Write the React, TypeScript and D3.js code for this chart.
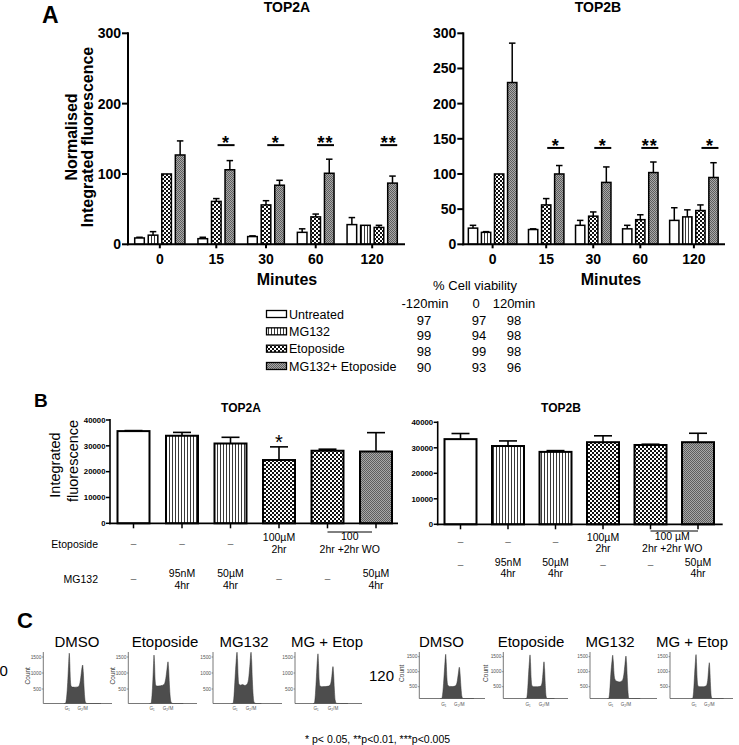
import React from "react";
import * as d3 from "d3";

const FONT = "'Liberation Sans', Arial, Helvetica, sans-serif";

// ---------------- Panel A data ----------------
const MINUTES = ["0", "15", "30", "60", "120"];
const SERIES = ["Untreated", "MG132", "Etoposide", "MG132+ Etoposide"];
const FILLS = ["#ffffff", "url(#pStripe)", "url(#pCheck)", "url(#pGray)"];

const TOP2A_UNTREATED = [9, 8, 11, 17, 28];
const TOP2A_MG132 = [13, null, null, null, 27];
const TOP2A_ETOPOSIDE = [100, 61, 56, 39, 24];
const TOP2A_COMBO = [127, 106, 84, 101, 87];
const TOP2A_UNTREATED_SEM = [1, 2, 1, 5, 10];
const TOP2A_MG132_SEM = [5, null, null, null, 0];
const TOP2A_ETOPOSIDE_SEM = [0, 4, 6, 4, 3];
const TOP2A_COMBO_SEM = [20, 13, 7, 20, 10];
const TOP2A_SIG = ["", "*", "*", "**", "**"];
const TOP2A_TICKS = [0, 100, 200, 300];

const TOP2B_UNTREATED = [23, 21, 27, 22, 34];
const TOP2B_MG132 = [17, null, null, null, 39];
const TOP2B_ETOPOSIDE = [100, 56, 40, 35, 48];
const TOP2B_COMBO = [230, 100, 88, 102, 95];
const TOP2B_UNTREATED_SEM = [4, 1, 7, 5, 18];
const TOP2B_MG132_SEM = [1, null, null, null, 10];
const TOP2B_ETOPOSIDE_SEM = [0, 9, 6, 7, 8];
const TOP2B_COMBO_SEM = [56, 12, 22, 15, 21];
const TOP2B_SIG = ["", "*", "*", "**", "*"];
const TOP2B_TICKS = [0, 50, 100, 150, 200, 250, 300];

// viability table
const VIAB_HEADERS = ["-120min", "0", "120min"];
const VIAB_M120 = [97, 99, 98, 90];
const VIAB_0 = [97, 94, 99, 93];
const VIAB_120 = [98, 98, 98, 96];

// ---------------- Panel B data ----------------
const B_FILL_INDEX = [0, 1, 1, 2, 2, 3];
const B_TOP2A = [35700, 33900, 30900, 24500, 28100, 27800];
const B_TOP2A_SEM = [200, 1300, 2400, 5100, 600, 7300];
const B_TOP2B = [33400, 30700, 28400, 32200, 31100, 32200];
const B_TOP2B_SEM = [2200, 2000, 500, 2500, 300, 3500];
const B_TICKS = [0, 10000, 20000, 30000, 40000];
const ETOP_ROW = [["–"], ["–"], ["–"], ["100µM", "2hr"], null, null];
const MG132_ROW = [["–"], ["95nM", "4hr"], ["50µM", "4hr"], ["–"], ["–"], ["50µM", "4hr"]];

// ---------------- Panel C data ----------------
const C_TITLES = ["DMSO", "Etoposide", "MG132", "MG + Etop"];
const C_ROWS = ["0", "120"];
const C_TICKS = [500, 1000, 1500];
const HIST_DMSO_0 = [[300,0],[320,40],[340,250],[355,700],[368,1250],[378,1620],[386,1300],[394,800],[404,600],[420,560],[460,555],[500,565],[525,620],[545,850],[560,1120],[573,1250],[583,1000],[592,600],[602,250],[615,80],[640,30],[720,15],[820,5],[840,0]];
const HIST_ETOP_0 = [[310,0],[330,50],[345,300],[358,800],[367,1250],[374,1560],[382,1300],[390,800],[400,620],[420,590],[470,600],[520,640],[545,820],[562,1100],[578,1350],[588,1100],[598,650],[610,250],[625,80],[650,30],[720,15],[800,0]];
const HIST_MG_0 = [[270,0],[290,50],[305,300],[320,850],[335,1350],[348,1650],[356,1400],[364,900],[374,660],[400,620],[430,640],[460,610],[490,640],[515,800],[533,1200],[551,1650],[560,1400],[570,800],[582,300],[597,80],[625,20],[700,0]];
const HIST_MGETOP_0 = [[270,0],[290,60],[305,350],[320,900],[332,1350],[343,1600],[351,1300],[360,800],[372,600],[400,570],[450,575],[500,590],[530,650],[550,900],[567,1200],[577,950],[587,500],[600,150],[620,50],[680,35],[760,20],[790,0]];
const HIST_DMSO_120 = [[320,0],[340,60],[360,350],[378,900],[392,1350],[402,1580],[410,1300],[420,800],[432,560],[460,510],[510,505],[550,530],[575,650],[595,950],[609,1150],[620,950],[632,550],[648,180],[665,60],[700,40],[780,25],[830,0]];
const HIST_ETOP_120 = [[340,0],[358,60],[375,350],[390,900],[404,1350],[413,1560],[421,1300],[430,800],[442,540],[470,500],[530,500],[580,520],[600,650],[615,1000],[629,1330],[638,1100],[648,600],[660,200],[675,60],[720,25],[790,0]];
const HIST_MG_120 = [[260,0],[278,60],[295,350],[310,900],[328,1350],[339,1550],[348,1350],[358,950],[370,760],[400,680],[440,660],[480,700],[505,900],[522,1250],[537,1520],[546,1300],[556,800],[568,300],[580,80],[620,40],[700,25],[750,0]];
const HIST_MGETOP_120 = [[340,0],[358,60],[375,350],[390,900],[404,1350],[413,1570],[421,1300],[430,800],[442,540],[470,500],[530,500],[575,530],[598,700],[612,1050],[624,1300],[633,1050],[643,550],[655,180],[670,60],[720,40],[800,25],[850,0]];
const G1_CH = [[378, 374, 348, 343], [402, 413, 339, 413]];
const G2_CH = [[573, 578, 551, 567], [609, 629, 537, 624]];

function Patterns() {
  return (
    <defs>
      <pattern id="pStripe" patternUnits="userSpaceOnUse" width={3} height={4}>
        <rect width={3} height={4} fill="#fff" />
        <rect x={1} width={0.9} height={4} fill="#222" />
      </pattern>
      <pattern id="pCheck" patternUnits="userSpaceOnUse" width={4} height={4}>
        <rect width={4} height={4} fill="#fff" />
        <rect width={2} height={2} fill="#111" />
        <rect x={2} y={2} width={2} height={2} fill="#111" />
      </pattern>
      <pattern id="pGray" patternUnits="userSpaceOnUse" width={2} height={2}>
        <rect width={2} height={2} fill="#a8a8a8" />
        <rect width={1} height={1} fill="#5e5e5e" />
        <rect x={1} y={1} width={1} height={1} fill="#5e5e5e" />
      </pattern>
    </defs>
  );
}

type PanelAProps = {
  title: string; titleX: number; means: (number | null)[][]; sems: (number | null)[][];
  sig: string[]; ticks: number[]; axisX: number; axisRight: number; firstC: number; lastC: number;
  bw: number; gap: number; sigValue: number; minutesX: number;
};

function PanelA(p: PanelAProps) {
  const y = d3.scaleLinear().domain([0, 300]).range([244.3, 33.3]);
  const groups: any[] = [];
  let pos = 0;
  MINUTES.forEach((label, g) => {
    const start = pos;
    const members: any[] = [];
    p.means.forEach((arr, s) => {
      const v = arr[g];
      if (v != null) {
        members.push({ g, s, pos, v, e: p.sems[s][g] ?? 0 });
        pos += 1;
      }
    });
    groups.push({ label, g, mid: (start + pos - 1) / 2, members });
    pos += p.gap;
  });
  const last = pos - p.gap - 1;
  const x = d3.scaleLinear().domain([0, last]).range([p.firstC, p.lastC]);
  const y0 = y(0);
  const cap = 6.5;
  return (
    <g>
      <text x={p.titleX} y={12} textAnchor="middle" fontWeight="bold" fontSize={14}>{p.title}</text>
      {groups.map((gr) =>
        gr.members.map((m: any) => (
          <g key={`${gr.g}-${m.s}`}>
            <rect x={x(m.pos) - p.bw / 2} y={y(m.v)} width={p.bw} height={y0 - y(m.v)} fill={FILLS[m.s]} stroke="#000" strokeWidth={1.5} />
            {m.e > 0.6 && (
              <g stroke="#000" strokeWidth={1.5}>
                <line x1={x(m.pos)} x2={x(m.pos)} y1={y(m.v)} y2={y(m.v + m.e)} />
                <line x1={x(m.pos) - cap / 2} x2={x(m.pos) + cap / 2} y1={y(m.v + m.e)} y2={y(m.v + m.e)} />
              </g>
            )}
          </g>
        ))
      )}
      {/* significance */}
      {groups.map((gr) => {
        if (!p.sig[gr.g]) return null;
        const a = gr.members.find((m: any) => m.s === 2);
        const b = gr.members.find((m: any) => m.s === 3);
        const mid = (x(a.pos) + x(b.pos)) / 2 + 3;
        const sy = y(p.sigValue);
        return (
          <g key={`sig${gr.g}`}>
            <line x1={mid - 8.5} x2={mid + 8.5} y1={sy} y2={sy} stroke="#000" strokeWidth={2} />
            <text x={mid} y={sy + 4} textAnchor="middle" fontWeight="bold" fontSize={18} letterSpacing={1}>{p.sig[gr.g]}</text>
          </g>
        );
      })}
      {/* axes */}
      <line x1={p.axisX} x2={p.axisX} y1={y0 + 1} y2={y(300) - 1} stroke="#000" strokeWidth={2} />
      <line x1={p.axisX - 1} x2={p.axisRight} y1={y0} y2={y0} stroke="#000" strokeWidth={2} />
      {p.ticks.map((t) => (
        <g key={t}>
          <line x1={p.axisX - 6} x2={p.axisX} y1={y(t)} y2={y(t)} stroke="#000" strokeWidth={2} />
          <text x={p.axisX - 7} y={y(t) + 5} textAnchor="end" fontWeight="bold" fontSize={14}>{t}</text>
        </g>
      ))}
      {groups.map((gr) => (
        <g key={`xt${gr.g}`}>
          <line x1={x(gr.mid)} x2={x(gr.mid)} y1={y0} y2={y0 + 4} stroke="#000" strokeWidth={2} />
          <text x={x(gr.mid)} y={264} textAnchor="middle" fontWeight="bold" fontSize={14}>{gr.label}</text>
        </g>
      ))}
      <text x={p.minutesX} y={285} textAnchor="middle" fontWeight="bold" fontSize={16}>Minutes</text>
    </g>
  );
}

function Legend() {
  const nameY = d3.scaleLinear().domain([0, 3]).range([314, 366]);
  const numY = d3.scaleLinear().domain([0, 3]).range([320, 367]);
  const cols = [VIAB_M120, VIAB_0, VIAB_120];
  const colX = [424, 479, 514];
  const headX = [425, 476, 514];
  return (
    <g fontSize={12.5}>
      <text x={475} y={290} textAnchor="middle" fontSize={13}>% Cell viability</text>
      {VIAB_HEADERS.map((h, i) => (
        <text key={h} x={headX[i]} y={307.5} textAnchor="middle" fontSize={13}>{h}</text>
      ))}
      {SERIES.map((s, i) => (
        <g key={s}>
          <rect x={266.5} y={nameY(i) - 3.5} width={20} height={7} fill={FILLS[i]} stroke="#000" strokeWidth={1.3} />
          <text x={289} y={nameY(i) + 4.5}>{s}</text>
        </g>
      ))}
      {cols.map((c, ci) =>
        c.map((v, i) => (
          <text key={`${ci}-${i}`} x={colX[ci]} y={numY(i) + 4.5} textAnchor="middle" fontSize={13}>{v}</text>
        ))
      )}
    </g>
  );
}

type PanelBProps = {
  title: string; titleX: number; means: number[]; sems: number[]; c0: number; c1: number;
  axisX: number; axisRight: number; yZero: number; yTop: number; rowLabels: boolean;
  merged: string; etopY: number[]; mgY: number[]; star: boolean; mergedLineY: number;
};

function PanelB(p: PanelBProps) {
  const y = d3.scaleLinear().domain([0, 40000]).range([p.yZero, p.yTop]);
  const x = d3.scalePoint<number>().domain(p.means.map((_, i) => i)).range([p.c0, p.c1]);
  const bw = 32;
  const cap = 18;
  const y0 = y(0);
  const row = (items: (string[] | null)[], ys: number[], key: string) =>
    items.map((it, i) => {
      if (!it) return null;
      const cx = x(i)!;
      if (it.length === 1)
        return <text key={key + i} x={cx} y={ys[0]} textAnchor="middle" fontSize={10} fill="#666">{it[0]}</text>;
      return (
        <g key={key + i}>
          <text x={cx} y={ys[1]} textAnchor="middle" fontSize={10.5}>{it[0]}</text>
          <text x={cx} y={ys[2]} textAnchor="middle" fontSize={10.5}>{it[1]}</text>
        </g>
      );
    });
  const m0 = x(4)!, m1 = x(5)!;
  return (
    <g>
      <text x={p.titleX} y={412} textAnchor="middle" fontWeight="bold" fontSize={12}>{p.title}</text>
      {p.means.map((v, i) => {
        const cx = x(i)!;
        return (
          <g key={i}>
            <rect x={cx - bw / 2} y={y(v)} width={bw} height={y0 - y(v)} fill={FILLS[B_FILL_INDEX[i]]} stroke="#000" strokeWidth={2} />
            <g stroke="#000" strokeWidth={1.6}>
              <line x1={cx} x2={cx} y1={y(v)} y2={y(v + p.sems[i])} />
              <line x1={cx - cap / 2} x2={cx + cap / 2} y1={y(v + p.sems[i])} y2={y(v + p.sems[i])} />
            </g>
          </g>
        );
      })}
      {p.star && <text x={x(3)!} y={448.5} textAnchor="middle" fontSize={20}>*</text>}
      <line x1={p.axisX} x2={p.axisX} y1={y0 + 1} y2={y(40000) - 1} stroke="#000" strokeWidth={1.6} />
      <line x1={p.axisX - 1} x2={p.axisRight} y1={y0} y2={y0} stroke="#000" strokeWidth={1.8} />
      {B_TICKS.map((t) => (
        <g key={t}>
          <line x1={p.axisX - 4} x2={p.axisX} y1={y(t)} y2={y(t)} stroke="#000" strokeWidth={1.5} />
          <text x={p.axisX - 4.5} y={y(t) + 2.8} textAnchor="end" fontWeight="bold" fontSize={7.8}>{t}</text>
        </g>
      ))}
      {p.means.map((_, i) => (
        <line key={`t${i}`} x1={x(i)!} x2={x(i)!} y1={y0} y2={y0 + 5} stroke="#000" strokeWidth={1.5} />
      ))}
      {row(ETOP_ROW, p.etopY, "e")}
      {row(MG132_ROW, p.mgY, "m")}
      <line x1={m0} x2={m1 - (p.rowLabels ? 4 : 0)} y1={p.mergedLineY} y2={p.mergedLineY} stroke="#000" strokeWidth={1} />
      <text x={(m0 + m1) / 2 - 2} y={p.etopY[1] - 1} textAnchor="middle" fontSize={10.5}>{p.merged}</text>
      <text x={(m0 + m1) / 2 - 2} y={p.etopY[2]} textAnchor="middle" fontSize={10.5}>2hr +2hr WO</text>
      {p.rowLabels && (
        <g fontSize={10.5}>
          <text x={98} y={547.5} textAnchor="end">Etoposide</text>
          <text x={98} y={582.5} textAnchor="end">MG132</text>
          <text transform="translate(60,465) rotate(-90)" textAnchor="middle" fontSize={14.5}>Integrated</text>
          <text transform="translate(78,461) rotate(-90)" textAnchor="middle" fontSize={14.5}>fluorescence</text>
        </g>
      )}
    </g>
  );
}

type HistProps = {
  data: number[][]; x0: number; x1: number; yZero: number; y1500: number; axisY: number;
  title: string; titleX: number; count: boolean; countOffset: number; g1: number; g2: number; labY: number;
};

function Hist(p: HistProps) {
  const xs = d3.scaleLinear().domain([0, 1000]).range([p.x0, p.x1]);
  const ys = d3.scaleLinear().domain([0, 1500]).range([p.yZero, p.y1500]);
  const area = d3.area<number[]>()
    .x((d) => xs(d[0]))
    .y0(p.axisY)
    .y1((d) => Math.min(p.axisY, ys(d[1])))
    .curve(d3.curveMonotoneX);
  return (
    <g>
      <text x={p.titleX} y={647} textAnchor="middle" fontSize={15}>{p.title}</text>
      <path d={area(p.data) || ""} fill="#4d4d4d" stroke="#333" strokeWidth={0.5} />
      <line x1={p.x0} x2={p.x0} y1={p.axisY} y2={652} stroke="#555" strokeWidth={0.8} />
      <line x1={p.x0} x2={p.x1} y1={p.axisY} y2={p.axisY} stroke="#555" strokeWidth={0.8} />
      {C_TICKS.map((t) => (
        <g key={t}>
          <line x1={p.x0 - 1.5} x2={p.x0} y1={ys(t)} y2={ys(t)} stroke="#555" strokeWidth={0.6} />
          <text x={p.x0 - 2} y={ys(t) + 1.6} textAnchor="end" fontSize={4.8} fill="#555">{t}</text>
        </g>
      ))}
      {p.count && (
        <text transform={`translate(${p.x0 - p.countOffset},${(p.axisY + 652) / 2 - 2}) rotate(-90)`} textAnchor="middle" fontSize={6.5} fill="#444">Count</text>
      )}
      <text x={xs(p.g1) - 2} y={p.labY} textAnchor="middle" fontSize={4.6} fill="#555">G₁</text>
      <text x={xs(p.g2)} y={p.labY} textAnchor="middle" fontSize={4.6} fill="#555">G₂/M</text>
    </g>
  );
}

export default function App() {
  const hists0 = [HIST_DMSO_0, HIST_ETOP_0, HIST_MG_0, HIST_MGETOP_0];
  const hists120 = [HIST_DMSO_120, HIST_ETOP_120, HIST_MG_120, HIST_MGETOP_120];
  const axes0 = [[43.3, 112], [128.3, 197], [213, 282], [295, 362]];
  const axes120 = [[419.3, 485], [503.3, 568], [590, 657], [670, 733]];
  const titles0X = [77, 165, 244, 327];
  const titles120X = [441.5, 531, 610, 692];
  return (
    <svg width={739} height={745} viewBox="0 0 739 745" style={{ position: "absolute", left: 0, top: 0 }} fontFamily={FONT}>
      <rect width={739} height={745} fill="#fff" />
      <Patterns />
      {/* Panel A */}
      <text x={42} y={23} fontWeight="bold" fontSize={23}>A</text>
      <text transform="translate(77,137) rotate(-90)" textAnchor="middle" fontWeight="bold" fontSize={16}>Normalised</text>
      <text transform="translate(93,137) rotate(-90)" textAnchor="middle" fontWeight="bold" fontSize={16}>Integrated fluorescence</text>
      <PanelA title="TOP2A" titleX={287}
        means={[TOP2A_UNTREATED, TOP2A_MG132, TOP2A_ETOPOSIDE, TOP2A_COMBO]}
        sems={[TOP2A_UNTREATED_SEM, TOP2A_MG132_SEM, TOP2A_ETOPOSIDE_SEM, TOP2A_COMBO_SEM]}
        sig={TOP2A_SIG} ticks={TOP2A_TICKS} axisX={128} axisRight={405}
        firstC={139.5} lastC={392.5} bw={9.6} gap={0.67} sigValue={141} minutesX={287} />
      <PanelA title="TOP2B" titleX={598}
        means={[TOP2B_UNTREATED, TOP2B_MG132, TOP2B_ETOPOSIDE, TOP2B_COMBO]}
        sems={[TOP2B_UNTREATED_SEM, TOP2B_MG132_SEM, TOP2B_ETOPOSIDE_SEM, TOP2B_COMBO_SEM]}
        sig={TOP2B_SIG} ticks={TOP2B_TICKS} axisX={463.3} axisRight={725}
        firstC={473} lastC={713.5} bw={9.3} gap={0.6} sigValue={137} minutesX={611} />
      <Legend />
      {/* Panel B */}
      <text x={34} y={407} fontWeight="bold" fontSize={19}>B</text>
      <PanelB title="TOP2A" titleX={241} means={B_TOP2A} sems={B_TOP2A_SEM} c0={133.5} c1={376}
        axisX={110} axisRight={398} yZero={523.3} yTop={420} rowLabels={true} merged="100"
        etopY={[546.5, 541, 552.5]} mgY={[581.5, 576.5, 589]} star={true} mergedLineY={532} />
      <PanelB title="TOP2B" titleX={561} means={B_TOP2B} sems={B_TOP2B_SEM} c0={460.5} c1={698}
        axisX={437.7} axisRight={722.7} yZero={524.3} yTop={422.3} rowLabels={false} merged="100 µM"
        etopY={[545, 541, 552]} mgY={[567.5, 565.5, 577]} star={false} mergedLineY={531} />
      {/* Panel C */}
      <text x={17} y={628} fontWeight="bold" fontSize={22}>C</text>
      <text x={-0.5} y={675.5} fontSize={15}>{C_ROWS[0]}</text>
      <text x={369} y={681} fontSize={15}>{C_ROWS[1]}</text>
      {hists0.map((h, i) => (
        <Hist key={`a${i}`} data={h} x0={axes0[i][0]} x1={axes0[i][1]} yZero={705} y1500={657} axisY={703.5}
          title={C_TITLES[i]} titleX={titles0X[i]} count={i < 2} countOffset={13.5}
          g1={G1_CH[0][i]} g2={G2_CH[0][i]} labY={710} />
      ))}
      {hists120.map((h, i) => (
        <Hist key={`b${i}`} data={h} x0={axes120[i][0]} x1={axes120[i][1]} yZero={701.7} y1500={656.7} axisY={698.5}
          title={C_TITLES[i]} titleX={titles120X[i]} count={i < 2} countOffset={15}
          g1={G1_CH[1][i]} g2={G2_CH[1][i]} labY={706} />
      ))}
      <text x={305} y={743} fontSize={10.5}>* p&lt; 0.05, **p&lt;0.01, ***p&lt;0.005</text>
    </svg>
  );
}
